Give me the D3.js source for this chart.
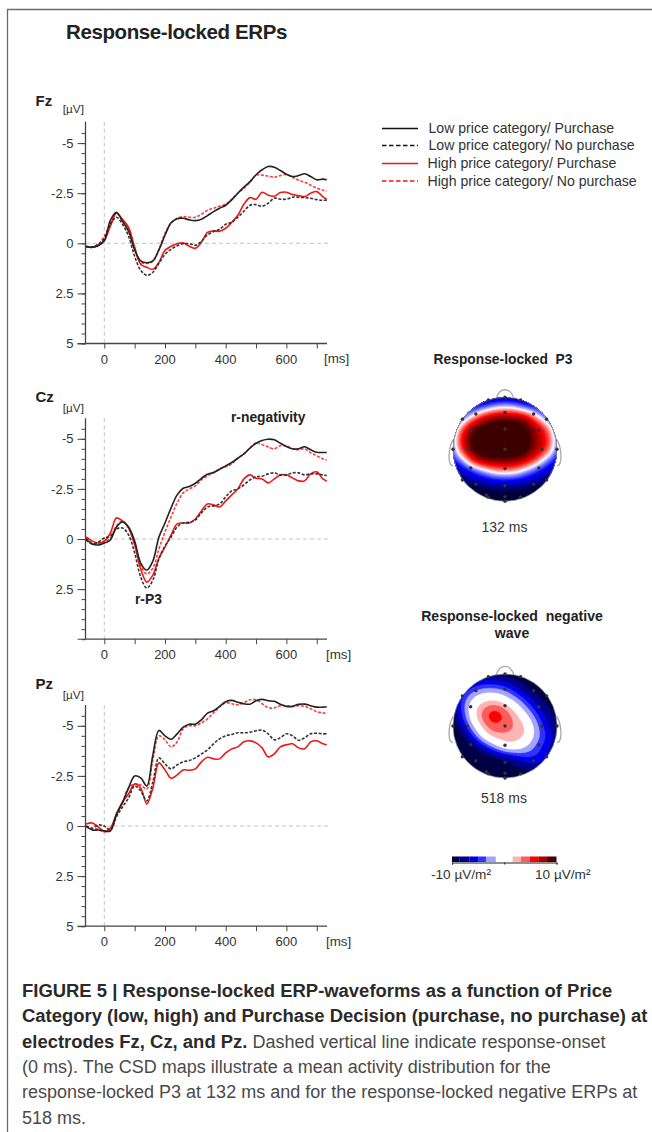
<!DOCTYPE html>
<html>
<head>
<meta charset="utf-8">
<script src="https://cdn.jsdelivr.net/npm/d3@7"></script>
<style>
html,body{margin:0;padding:0;background:#fff}
svg{display:block}
text{font-family:"Liberation Sans",Arial,sans-serif;fill:#222}
</style>
</head>
<body>
<div id="chart"></div>
<script>
var times = [-60,-40,-20,0,20,40,60,80,100,120,140,160,180,200,220,240,260,280,300,320,340,360,380,400,420,440,460,480,500,520,540,560,580,600,620,640,660,680,700,720,733]

var fzLowBuy = [.17,.2,.12,-.12,-1.15,-1.55,-1.1,-.6,.33,.88,.97,.88,.33,-.4,-1.03,-1.23,-1.25,-1.17,-1.13,-1.2,-1.38,-1.58,-1.75,-1.9,-2.17,-2.5,-2.8,-3.08,-3.42,-3.67,-3.83,-3.8,-3.63,-3.45,-3.33,-3.38,-3.47,-3.33,-3.17,-3.2,-3.17]
var fzLowNo = [.15,.2,.05,-.25,-.95,-1.3,-.95,-.35,.65,1.35,1.6,1.45,1,.55,.3,.12,.02,.02,.1,-.1,-.42,-.58,-.7,-.95,-1.05,-1.3,-1.6,-1.9,-1.93,-1.85,-2,-2.25,-2.2,-2.2,-2.3,-2.3,-2.28,-2.25,-2.18,-2.15,-2.15]
var fzHighBuy = [.15,.2,.1,-.15,-.85,-1.5,-1.2,-.8,.2,1.05,1.2,1.3,.95,.35,.15,.02,-.02,.15,.25,-.05,-.55,-.62,-.6,-.75,-1.05,-1.4,-1.95,-2.28,-2.2,-2.55,-2.4,-2.35,-2.53,-2.55,-2.43,-2.38,-2.33,-2.5,-2.58,-2.33,-2.2]
var fzHighNo = [.15,.18,.05,-.35,-1,-1.5,-1.15,-.75,.25,.95,1,.9,.3,-.5,-1,-1.25,-1.33,-1.3,-1.3,-1.45,-1.65,-1.75,-1.85,-1.95,-2.2,-2.5,-2.75,-3.05,-3.4,-3.4,-3.35,-3.3,-3.38,-3.43,-3.3,-3.15,-3.05,-2.9,-2.75,-2.65,-2.6]

var czLowBuy = [0,.25,.3,.2,.05,-.6,-.85,-.6,.1,1.2,1.55,1.1,-.1,-.8,-1.55,-2.2,-2.53,-2.62,-2.78,-3.03,-3.23,-3.32,-3.48,-3.65,-3.82,-4.03,-4.25,-4.53,-4.78,-4.92,-4.98,-4.95,-4.78,-4.62,-4.5,-4.5,-4.6,-4.45,-4.33,-4.32,-4.32]
var czLowNo = [.05,.25,.15,-.05,-.15,-.5,-.55,-.2,.7,1.9,2.45,2.05,1,.35,-.1,-.6,-.8,-.83,-.95,-1.3,-1.6,-1.65,-1.75,-2.1,-2.4,-2.5,-2.7,-2.95,-3.1,-3.13,-3.25,-3.3,-3.2,-3.2,-3.3,-3.3,-3.2,-3.25,-3.25,-3.2,-3.17]
var czHighBuy = [-.1,.1,.2,.1,-.3,-1.05,-.9,-.55,.3,1.5,2.15,1.8,.95,.4,-.2,-.75,-.8,-.8,-1,-1.4,-1.75,-1.7,-1.6,-1.9,-2.2,-2.5,-3,-3.2,-3.03,-3,-2.8,-3,-3.2,-3.2,-3.05,-2.9,-2.9,-3.25,-3.35,-3,-2.9]
var czHighNo = [-.05,.2,.25,.15,-.05,-.65,-.9,-.55,.2,1.3,1.75,1.45,.5,-.35,-1.1,-1.8,-2.3,-2.5,-2.65,-2.95,-3.15,-3.3,-3.5,-3.6,-3.75,-4.05,-4.25,-4.55,-4.8,-4.7,-4.6,-4.5,-4.65,-4.65,-4.5,-4.45,-4.5,-4.3,-4.15,-4,-3.95]

var pzLowBuy = [0,.2,.2,.25,.25,-.6,-1.15,-1.9,-2.5,-2.4,-2,-3.55,-4.77,-4.5,-4.33,-4.6,-4.93,-5.08,-5.08,-5.3,-5.63,-5.75,-5.97,-6.2,-6.27,-6.18,-6.1,-6.08,-6.25,-6.32,-6.25,-6.22,-6.08,-5.97,-5.97,-6.07,-6.08,-6,-5.93,-5.93,-5.95]
var pzLowNo = [0,.1,-.05,0,.2,-.45,-.95,-1.4,-2,-1.75,-1.25,-2.2,-3.4,-3.1,-2.85,-3.05,-3.2,-3.27,-3.4,-3.6,-3.8,-4.1,-4.35,-4.5,-4.57,-4.65,-4.65,-4.68,-4.75,-4.78,-4.6,-4.3,-4.4,-4.6,-4.5,-4.28,-4.4,-4.6,-4.63,-4.6,-4.6]
var pzHighBuy = [-.1,-.15,.05,.25,.1,-.6,-1.2,-1.6,-2.1,-1.9,-1.1,-1.9,-3.15,-2.8,-2.38,-2.55,-2.8,-2.78,-2.85,-3.2,-3.43,-3.35,-3.35,-3.65,-3.85,-3.95,-4.2,-4.25,-4.15,-3.9,-3.45,-3.6,-3.95,-4.05,-4.1,-3.9,-3.85,-4.2,-4.25,-4.1,-4.05]
var pzHighNo = [.05,.15,.15,.3,.15,-.55,-1.2,-1.9,-2.1,-2.05,-1.85,-3.3,-4.5,-4.3,-3.95,-4.2,-4.85,-5,-5,-5.15,-5.35,-5.65,-5.95,-6.15,-6.1,-6.05,-6.15,-6.3,-6.3,-6.1,-5.9,-5.9,-6,-6,-5.97,-6,-5.97,-5.85,-5.7,-5.65,-5.6]

var legendLabels = ["Low price category/ Purchase","Low price category/ No purchase","High price category/ Purchase","High price category/ No purchase"]
var xTickLabels = [0,200,400,600]

var mapP3 = [
[-11,-10,-8.5,-7.5,-7,-6.7,-7,-7.5,-8.5,-10,-11],
[-8,-6.3,-4.5,-3.3,-1,0,-1,-3.3,-4.5,-6.3,-8],
[-5.5,-2.7,2,7,9.3,9.5,9.3,8,2,-2.7,-5.5],
[-3.3,4,10.2,11.5,12,12,12,10.5,8,3.5,-3.3],
[-1.5,7,11,12,12.5,13,12.5,11,8,5.5,-1.5],
[-2.3,5.5,11,12,12.5,12.5,12.5,11,8,4.5,-2.3],
[-4.3,-1,6.5,9.5,9.5,9.5,9,7.5,3.5,-1.5,-5],
[-8,-6,-3.5,-1,2,2.5,2,-1,-3.5,-6,-8],
[-10,-8.5,-7,-6,-5.3,-5,-5.3,-6,-7,-8.5,-10],
[-12,-12,-11,-10,-9.5,-9.3,-9.5,-10,-11,-12,-12],
[-12,-12,-12,-12,-12,-12,-12,-12,-12,-12,-12]]

var mapNeg = [
[-9.2,-8.6,-8.2,-8.2,-8.6,-9.2,-10,-11,-12,-12,-12],
[-8.5,-7.5,-6,-5.2,-5.2,-5.7,-7,-9,-10.5,-11.5,-12],
[-8,-5,-2.2,-.5,-.5,-2,-4.5,-6.5,-8.5,-10,-11],
[-8,-4,1,2.8,3.8,2.4,-.2,-3.8,-6.5,-8.5,-10],
[-9,-4.5,1.2,4.5,7.2,4.8,2.6,-.7,-4.5,-7,-9],
[-10,-6.5,-1,3,4.6,3.8,3.2,1.9,-2.7,-6,-8.5],
[-11,-9,-5,.4,2.6,3,2.8,1.6,-2.5,-5,-7.5],
[-12,-10,-9,-6,-2.5,.6,.8,-1.4,-4,-6,-8],
[-12,-12,-11,-10,-9,-8,-6.5,-5,-5,-6.5,-8.5],
[-12,-12,-12,-12,-11,-10,-9,-8,-7.5,-8,-10],
[-12,-12,-12,-12,-12,-11.5,-11,-10.5,-10,-10.5,-11]]

// electrode sites as fractions of head radius
var siteX = [0,-.32,.3,-.56,0,.55,-.82,.8,-.66,0,.65,-1,-.72,0,.71,1,-.66,0,.65,-.82,.8,-.56,0,.55,-.32,.3,0,0,-.36]
var siteY = [-1,-.95,-.95,-.68,-.71,-.68,-.58,-.58,-.37,-.39,-.37,0,0,0,0,0,.36,.37,.36,.59,.59,.67,.7,.67,.92,.92,.91,1,.88]

var barEdges = [-10,-8.5,-6.6,-5,-3.5,-1.6,1.6,3.2,4.9,6.5,8.2,10]
var barColors = ["#000045","#00008c","#0000e6","#3232ff","#a4a4ff","#ffffff","#ffb4b4","#ff5c5c","#ff0000","#a80000","#450000"]

var width = 652
var height = 1132

var svg = d3.select("#chart").append("svg")
  .attr("width", width)
  .attr("height", height)

// frame
svg.append("path")
  .attr("d", "M7.5,1132V9.5H652")
  .attr("fill", "none")
  .attr("stroke", "#6b6b6b")
  .attr("stroke-width", 1.3)

svg.append("text").attr("x", 66).attr("y", 38.5)
  .style("font-size", "20.5px").style("font-weight", "bold").style("letter-spacing", "-.4px")
  .text("Response-locked ERPs")

var x = d3.scaleLinear().domain([0, 600]).range([104.3, 286.4])

var styles = [
  {color:"#ff3b3b", dash:"3,1.6"},  // drawn first: high / no purchase
  {color:"#f01616", dash:null},
  {color:"#333333", dash:"3,1.6"},
  {color:"#222222", dash:null}
]

function drawPanel(name, zeroY, topY, labels, series, nameY, unitY, msX, msY){
  var y = d3.scaleLinear().domain([0, 5]).range([zeroY, zeroY + 100.2])
  var bottom = y(5)
  var g = svg.append("g")

  // zero lines
  g.append("line").attr("x1", 86).attr("x2", 328).attr("y1", zeroY).attr("y2", zeroY)
    .attr("stroke", "#c4c4c4").attr("stroke-dasharray", "4,3")
  g.append("line").attr("x1", x(0)).attr("x2", x(0)).attr("y1", topY).attr("y2", bottom)
    .attr("stroke", "#c4c4c4").attr("stroke-dasharray", "4,3")

  // y axis: short ticks every 0.5, long ones at the labels
  var minor = d3.range(-5.5, 5.01, .5)
  var yAxis = d3.axisLeft(y).tickValues(minor).tickSize(4).tickFormat("")
  var ya = g.append("g").attr("transform", "translate(85.5,0)").call(yAxis)
  ya.select(".domain").remove()
  ya.selectAll("line").attr("stroke", "#444")
  g.append("line").attr("x1", 85.5).attr("x2", 85.5).attr("y1", topY).attr("y2", bottom)
    .attr("stroke", "#444").attr("stroke-width", 1.3)
  var yBig = d3.axisLeft(y).tickValues(labels).tickSize(8).tickPadding(4)
    .tickFormat(function(d){ return d })
  var yb = g.append("g").attr("transform", "translate(85.5,0)").call(yBig)
  yb.select(".domain").remove()
  yb.selectAll("line").attr("stroke", "#444")
  yb.selectAll("text").style("font-size", "13px").style("fill", "#333")
  g.append("line").attr("x1", 77.5).attr("x2", 85.5).attr("y1", bottom).attr("y2", bottom).attr("stroke", "#444")

  // x axis
  var xAxis = d3.axisBottom(x).tickValues(d3.range(0, 701, 100)).tickSize(5).tickFormat("")
  var xa = g.append("g").attr("transform", "translate(0," + bottom + ")").call(xAxis)
  xa.select(".domain").remove()
  xa.selectAll("line").attr("stroke", "#444")
  g.append("line").attr("x1", 85).attr("x2", 327).attr("y1", bottom).attr("y2", bottom)
    .attr("stroke", "#444").attr("stroke-width", 1.3)
  g.selectAll(".xl").data(xTickLabels).enter().append("text")
    .attr("x", function(d){ return x(d) }).attr("y", bottom + 20)
    .attr("text-anchor", "middle").style("font-size", "13px").style("fill", "#333")
    .text(function(d){ return d })
  g.append("text").attr("x", msX).attr("y", msY).style("font-size", "13.4px").style("fill", "#333").text("[ms]")

  g.append("text").attr("x", 35.5).attr("y", nameY).style("font-size", "15px").style("font-weight", "bold").text(name)
  g.append("text").attr("x", 62.7).attr("y", unitY).style("font-size", "11.8px").style("fill", "#333").text("[µV]")

  var line = d3.line()
    .x(function(d, i){ return x(times[i]) })
    .y(function(d){ return y(d) })
    .curve(d3.curveCatmullRom)

  series.forEach(function(s, i){
    g.append("path").datum(s)
      .attr("d", line)
      .attr("fill", "none")
      .attr("stroke", styles[i].color)
      .attr("stroke-width", 1.6)
      .attr("stroke-dasharray", styles[i].dash)
  })
}

drawPanel("Fz", 243.3, 121.7, [-5,-2.5,0,2.5,5], [fzHighNo, fzHighBuy, fzLowNo, fzLowBuy], 106, 112.5, 324, 362.5)
drawPanel("Cz", 539, 418.3, [-5,-2.5,0,2.5], [czHighNo, czHighBuy, czLowNo, czLowBuy], 402, 411.5, 326, 658.5)
drawPanel("Pz", 826, 705, [-5,-2.5,0,2.5,5], [pzHighNo, pzHighBuy, pzLowNo, pzLowBuy], 689, 698.5, 326, 946)

svg.append("text").attr("x", 231).attr("y", 421.5).style("font-size", "13.8px").style("font-weight", "bold").text("r-negativity")
svg.append("text").attr("x", 135).attr("y", 603.5).style("font-size", "13.8px").style("font-weight", "bold").text("r-P3")

// legend
var legendY = [128.5, 145.5, 163.5, 181]
var legendX = [428.5, 428.5, 427.5, 427.5]
var legendLine = [
  {color:"#111", dash:null},
  {color:"#111", dash:"4.5,2.5"},
  {color:"#f01616", dash:null},
  {color:"#f01616", dash:"4.5,2.5"}
]
legendLabels.forEach(function(l, i){
  svg.append("line").attr("x1", 382).attr("x2", 418).attr("y1", legendY[i]).attr("y2", legendY[i])
    .attr("stroke", legendLine[i].color).attr("stroke-width", 1.7)
    .attr("stroke-dasharray", legendLine[i].dash)
  svg.append("text").attr("x", legendX[i]).attr("y", legendY[i] + 4.5)
    .style("font-size", "14.1px").style("fill", "#333").text(l)
})

// scalp maps
var smooth = d3.scaleLinear()
  .domain([-10,-7.5,-5,-2,0,2,5,7.5,10])
  .range(["#00003c","#00009a","#0000ff","#8c8cff","#ffffff","#ff8c8c","#ff0000","#a00000","#3c0000"])
  .clamp(true)

function band(v){
  var i = d3.bisectRight(barEdges, v) - 1
  return barColors[Math.max(0, Math.min(barColors.length - 1, i))]
}

// refine the coarse grid with b-splines, first along rows, then along columns
function refine(grid, n){
  var rows = grid.map(function(r){
    var f = d3.interpolateBasis(r)
    return d3.range(n).map(function(j){ return f(j / (n - 1)) })
  })
  var out = new Array(n * n)
  for(var j = 0; j < n; j++){
    var f = d3.interpolateBasis(rows.map(function(r){ return r[j] }))
    for(var i = 0; i < n; i++) out[i * n + j] = f(i / (n - 1))
  }
  return out
}

function drawHead(id, cx, cy, r, grid, thresholds, fillFor, base){
  var g = svg.append("g").attr("transform", "translate(" + cx + "," + cy + ")")
  var n = 121
  var k = 2 * r / (n - 1)

  // nose and ears
  var outline = "M" + (-.17*r) + "," + (-.98*r) + "C" + (-.1*r) + "," + (-1.2*r) + " " + (.1*r) + "," + (-1.2*r) + " " + (.17*r) + "," + (-.98*r)
    + "M" + (-r) + "," + (-.18*r) + "C" + (-1.08*r) + "," + (-.05*r) + " " + (-1.12*r) + "," + (.3*r) + " " + (-1.0*r) + "," + (.32*r)
    + "M" + r + "," + (-.18*r) + "C" + (1.08*r) + "," + (-.05*r) + " " + (1.12*r) + "," + (.3*r) + " " + (1.0*r) + "," + (.32*r)
  g.append("path").attr("d", outline).attr("fill", "none").attr("stroke", "#a8a8a8").attr("stroke-width", 1.3)

  svg.append("clipPath").attr("id", id).append("circle").attr("r", r)
  var m = g.append("g").attr("clip-path", "url(#" + id + ")")
  m.append("circle").attr("r", r).attr("fill", base)

  var contours = d3.contours().size([n, n]).thresholds(thresholds)(refine(grid, n))
  var path = d3.geoPath(d3.geoIdentity().scale(k).translate([-r - k/2, -r - k/2]))
  m.selectAll("path").data(contours).enter().append("path")
    .attr("d", path)
    .attr("fill", function(d){ return fillFor(d.value) })
    .attr("stroke", function(d){ return fillFor(d.value) })
    .attr("stroke-width", .3)

  g.append("circle").attr("r", r).attr("fill", "none").attr("stroke", "#8a8a8a").attr("stroke-width", .8)

  g.selectAll(".site").data(siteX).enter().append("circle")
    .attr("cx", function(d){ return d * r })
    .attr("cy", function(d, i){ return siteY[i] * r })
    .attr("r", 1.7)
    .attr("fill", "#333")
}

function bandFill(v){ return band(v + .001) }

drawHead("headA", 505, 449.3, 52, mapP3, d3.range(-10, 10.01, .4), smooth, "#00003c")
drawHead("headB", 505, 726, 52, mapNeg, barEdges.slice(1, -1), bandFill, barColors[0])

function centered(t, cx, yy, size, bold){
  svg.append("text").attr("x", cx).attr("y", yy).attr("text-anchor", "middle")
    .style("font-size", size + "px").style("font-weight", bold ? "bold" : "normal")
    .style("fill", bold ? "#222" : "#333").style("white-space", "pre")
    .attr("xml:space", "preserve").text(t)
}
centered("Response-locked  P3", 503, 364, 13.8, true)
centered("132 ms", 504.5, 532, 14, false)
centered("Response-locked  negative", 512, 621, 14.1, true)
centered("wave", 512, 638, 14.1, true)
centered("518 ms", 504, 803, 14, false)

// colour bar
var barX = d3.scaleLinear().domain([-10, 10]).range([452, 556.5])
svg.selectAll(".seg").data(barColors).enter().append("rect")
  .attr("x", function(d, i){ return barX(barEdges[i]) })
  .attr("width", function(d, i){ return barX(barEdges[i + 1]) - barX(barEdges[i]) })
  .attr("y", 856.5).attr("height", 5.5)
  .attr("fill", function(d){ return d })
var barAxis = d3.axisBottom(barX).tickValues([-10, 0, 10]).tickSize(2).tickFormat("")
var ba = svg.append("g").attr("transform", "translate(0,862.5)").call(barAxis)
ba.select(".domain").attr("stroke", "#222")
ba.selectAll("line").attr("stroke", "#222")
svg.append("text").attr("x", 431).attr("y", 879).style("font-size", "13.6px").style("fill", "#333").text("-10 µV/m²")
svg.append("text").attr("x", 535).attr("y", 879).style("font-size", "13.6px").style("fill", "#333").text("10 µV/m²")

// caption
var capBold = ["FIGURE 5 | Response-locked ERP-waveforms as a function of Price",
  "Category (low, high) and Purchase Decision (purchase, no purchase) at",
  "electrodes Fz, Cz, and Pz."]
var capPlain = ["", "", " Dashed vertical line indicate response-onset",
  "(0 ms). The CSD maps illustrate a mean activity distribution for the",
  "response-locked P3 at 132 ms and for the response-locked negative ERPs at",
  "518 ms."]
capPlain.forEach(function(l, i){
  var t = svg.append("text").attr("x", 22).attr("y", 997 + i * 25.3).attr("xml:space", "preserve")
  if(capBold[i]) t.append("tspan").style("font-size", "18.45px").style("font-weight", "bold").style("fill", "#2a2a2a").text(capBold[i])
  if(l) t.append("tspan").style("font-size", "18px").style("fill", "#4a4a4a").text(l)
})
</script>
</body>
</html>
